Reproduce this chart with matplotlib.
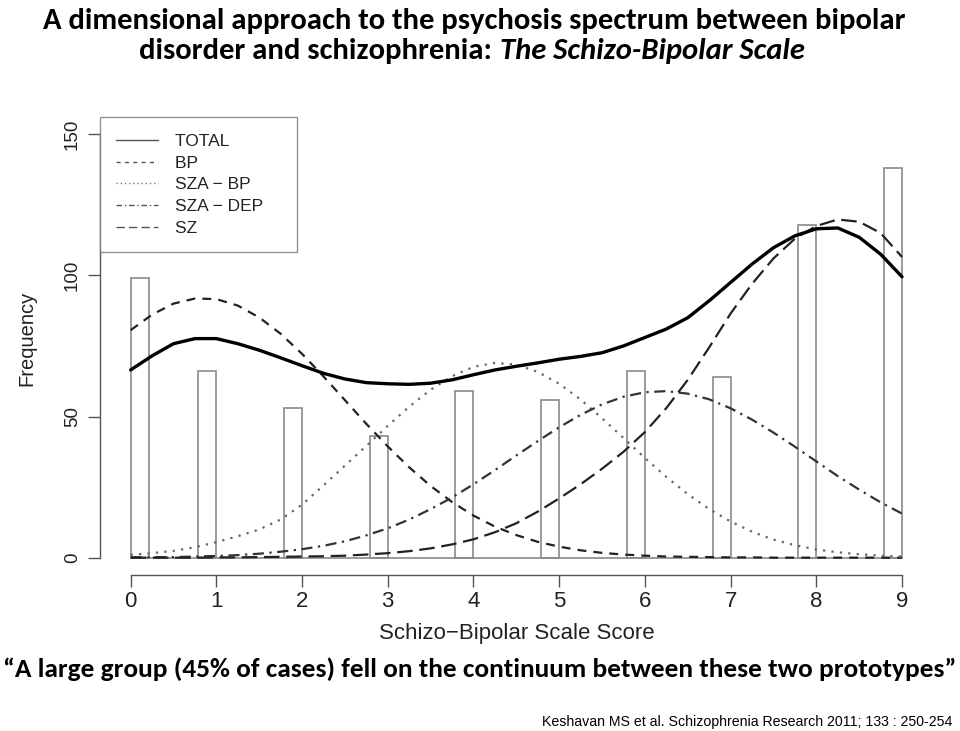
import matplotlib
matplotlib.use("Agg")
import matplotlib.pyplot as plt
from matplotlib.lines import Line2D
import numpy as np

# ---------------- data ----------------
scores = [0, 1, 2, 3, 4, 5, 6, 7, 8, 9]
freq = [99, 66, 53, 43, 59, 56, 66, 64, 118, 138]

# curves sampled at 0.25-steps of the score axis (0 .. 9)
curve_x = np.arange(0, 9.001, 0.25)
total = [66.5, 71.5, 75.8, 77.6, 77.6, 75.8, 73.5, 70.8, 68.0, 65.3, 63.3, 62.0,
         61.6, 61.4, 61.8, 63.0, 64.8, 66.5, 67.8, 69.0, 70.3, 71.3, 72.6, 75.0,
         78.0, 81.0, 85.0, 91.0, 97.5, 104.0, 109.8, 114.0, 116.5, 116.8, 113.5,
         107.5, 99.5]
bp = [80.6, 86.1, 90.0, 91.8, 91.6, 89.3, 85.1, 79.3, 72.2, 64.2, 55.8, 47.4,
      39.4, 32.0, 25.4, 19.7, 14.9, 11.0, 8.0, 5.6, 3.9, 2.6, 1.7, 1.1, 0.7, 0.4,
      0.3, 0.2, 0.1, 0.1, 0.0, 0.0, 0.0, 0.0, 0.0, 0.0, 0.0]
sza_bp = [1.0, 1.6, 2.4, 3.7, 5.5, 7.6, 10.0, 13.5, 18.8, 25.6, 32.6, 39.6,
          46.7, 53.5, 59.5, 64.3, 67.6, 69.0, 68.4, 65.8, 61.6, 56.0, 49.4, 42.4,
          35.3, 28.6, 22.5, 17.2, 12.8, 9.2, 6.4, 4.4, 2.9, 1.9, 1.2, 0.7, 0.4]
sza_dep = [0.1, 0.2, 0.2, 0.4, 0.6, 0.9, 1.4, 2.1, 3.0, 4.2, 5.8, 7.9, 10.4,
           13.5, 17.2, 21.3, 26.0, 31.0, 36.2, 41.3, 46.2, 50.6, 54.3, 57.0, 58.6,
           59.0, 58.1, 56.1, 52.9, 48.9, 44.3, 39.3, 34.1, 28.9, 24.1, 19.6, 15.6]
sz = [0.0, 0.0, 0.0, 0.0, 0.1, 0.1, 0.2, 0.3, 0.4, 0.5, 0.7, 1.1, 1.6, 2.3, 3.3,
      4.7, 6.5, 9.0, 12.2, 16.3, 21.0, 26.0, 31.5, 37.5, 44.5, 53.0, 63.0, 74.5,
      86.5, 97.0, 106.0, 113.0, 117.5, 119.8, 119.0, 115.0, 106.5]

series_labels = ["TOTAL", "BP", "SZA \u2212 BP", "SZA \u2212 DEP", "SZ"]
y_ticks = [0, 50, 100, 150]

title_line1 = "A dimensional approach to the psychosis spectrum between bipolar"
title_line2a = "disorder and schizophrenia:"
title_line2b = "The Schizo-Bipolar Scale"
quote = "\u201cA large group (45% of cases) fell on the continuum between these two prototypes\u201d"
citation = "Keshavan MS et al. Schizophrenia Research 2011; 133 : 250-254"
xlabel = "Schizo\u2212Bipolar Scale Score"
ylabel = "Frequency"

# ---------------- figure ----------------
W, H = 960, 731
fig = plt.figure(figsize=(W / 100, H / 100), dpi=100)
fig.patch.set_facecolor("white")

def fx(px):
    return px / W

def fy(py):
    return 1 - py / H

# R-like plot region (data range padded by 4 %)
ax = fig.add_axes([fx(99.8), fy(574.6), fx(932.9) - fx(99.8), fy(117.3) - fy(574.6)])
ax.set_xlim(-0.36, 9.36)
ax.set_ylim(-6, 156)

axis_font = ["Liberation Sans", "DejaVu Sans"]
grey = "#555555"

# histogram-like bars: first bar to the right of 0, others to the left of their score
bar_w = 0.21
for s, f in zip(scores, freq):
    w = bar_w if s == scores[0] else -bar_w
    ax.bar(s, f, width=w, align="edge", facecolor="white", edgecolor="#8a8a8a",
           linewidth=1.2, zorder=1)

ax.hlines(0, scores[0], scores[-1], color="#8a8a8a", linewidth=1.2, zorder=1.5)

ax.plot(curve_x, total, color="black", lw=2.4, solid_capstyle="round",
        solid_joinstyle="round", zorder=5)
ax.plot(curve_x, bp, color="#222222", lw=1.6, dashes=(4, 3.2), zorder=4)
ax.plot(curve_x, sza_bp, color="#666666", lw=1.6, dashes=(1, 2.8), zorder=4)
ax.plot(curve_x, sza_dep, color="#333333", lw=1.6, dashes=(5, 2.5, 1, 2.5), zorder=4)
ax.plot(curve_x, sz, color="#222222", lw=1.6, dashes=(7, 3), zorder=4)

# axes styling (R look)
for side in ("top", "right"):
    ax.spines[side].set_visible(False)
ax.spines["left"].set_bounds(0, 150)
ax.spines["bottom"].set_bounds(0, 9)
for side in ("left", "bottom"):
    ax.spines[side].set_color(grey)
    ax.spines[side].set_linewidth(1.0)

ax.set_xticks(scores)
ax.set_xticklabels([str(s) for s in scores], family=axis_font, fontsize=16, color="#222222")
ax.set_yticks(y_ticks)
ax.set_yticklabels([str(t) for t in y_ticks], family=axis_font, fontsize=13.5,
                   color="#222222", rotation=90, va="center")
ax.tick_params(axis="both", length=8.6, width=1.0, color=grey)
ax.tick_params(axis="x", pad=3)
ax.tick_params(axis="y", pad=5)

fig.text(fx(516.4), fy(634), xlabel, family=axis_font, fontsize=16, color="#222222",
         ha="center", va="center")
fig.text(fx(27), fy(338), ylabel, family=axis_font, fontsize=14.5, color="#222222",
         ha="center", va="center", rotation=90)

# legend
handles = [
    Line2D([], [], color="#555555", lw=1.0),
    Line2D([], [], color="#555555", lw=1.0, dashes=(3, 3)),
    Line2D([], [], color="#777777", lw=1.0, dashes=(1, 2)),
    Line2D([], [], color="#555555", lw=1.0, dashes=(4, 2, 1, 2)),
    Line2D([], [], color="#555555", lw=1.0, dashes=(6, 3)),
]
leg = ax.legend(handles, [lab + "\u2003" for lab in series_labels],
                loc="upper left", bbox_to_anchor=(0, 1),
                borderaxespad=0, frameon=True, fancybox=False, shadow=False,
                prop={"family": axis_font, "size": 12.5}, handlelength=2.4,
                handletextpad=1.0, labelspacing=0.38, borderpad=0.95)
leg.get_frame().set_edgecolor("#777777")
leg.get_frame().set_linewidth(1.0)
for t in leg.get_texts():
    t.set_color("#222222")

# ---------------- titles / captions ----------------
title_font = ["Carlito", "Liberation Sans Narrow", "Open Sans", "DejaVu Sans"]
renderer = fig.canvas.get_renderer()

def fit(t, target_w):
    w = t.get_window_extent(renderer).width
    t.set_fontsize(t.get_fontsize() * target_w / w)

t1 = fig.text(fx(474), fy(29), title_line1, family=title_font, weight="bold",
              fontsize=24, ha="center", va="baseline")
fit(t1, 862)
fs = t1.get_fontsize()

t2a = fig.text(0, fy(59), title_line2a, family=title_font, weight="bold",
               fontsize=fs, ha="left", va="baseline")
t2b = fig.text(0, fy(59), title_line2b, family=title_font, weight="bold",
               style="italic", fontsize=fs, ha="left", va="baseline")
w2a = t2a.get_window_extent(renderer).width
w2b = t2b.get_window_extent(renderer).width
gap = fs * 100 / 72 * 0.25
start = 472 - (w2a + gap + w2b) / 2
t2a.set_x(fx(start))
t2b.set_x(fx(start + w2a + gap))

tq = fig.text(fx(480), fy(677), quote, family=title_font, weight="bold",
              fontsize=24, ha="center", va="baseline")
fit(tq, 952)

tc = fig.text(fx(952), fy(726), citation, family=axis_font, fontsize=10,
              ha="right", va="baseline")
fit(tc, 411)

fig.savefig("out.png", dpi=100, facecolor="white")
